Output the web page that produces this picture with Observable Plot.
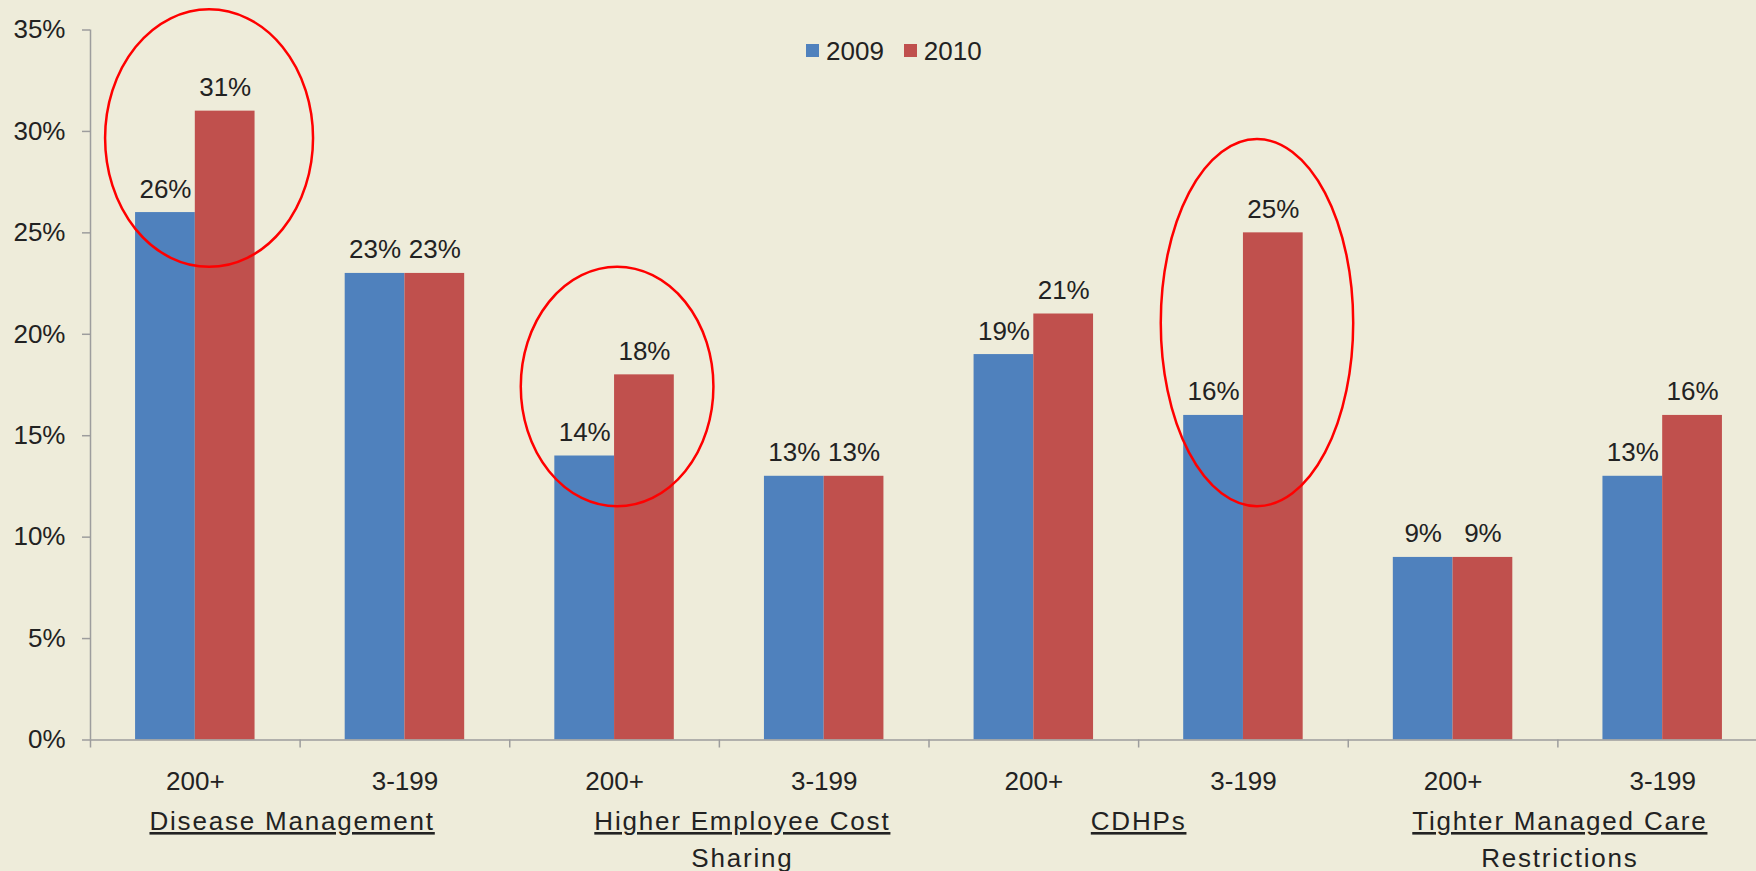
<!DOCTYPE html>
<html>
<head>
<meta charset="utf-8">
<script src="https://cdn.jsdelivr.net/npm/d3@7"></script>
<script src="https://cdn.jsdelivr.net/npm/@observablehq/plot@0.6"></script>
<style>
  html, body { margin: 0; padding: 0; background: #EEECDA; overflow: hidden; }
  #wrap { position: relative; width: 1756px; height: 871px; overflow: hidden; background: #EEECDA; }
  #legend { position: absolute; left: 806px; top: 34px; line-height: 30px; }
  #legend span { margin-right: 20px !important; }
  #legend svg { margin-right: 7px !important; }
  #wrap svg [aria-label^="x-axis"] path,
  #wrap svg [aria-label^="x-axis"] line,
  #wrap svg [aria-label^="y-axis"] path,
  #wrap svg [aria-label^="y-axis"] line { stroke: #9d9d9d; stroke-width: 1.5px; }
  #wrap svg g[aria-description="group-title"] text {
    text-decoration: underline; text-decoration-thickness: 2px; letter-spacing: 1.8px;
  }
  #wrap svg g[aria-description="group-sub"] text { letter-spacing: 1.8px; }
</style>
</head>
<body>
<div id="wrap"></div>
<script>
// ---- data ----
const groups = ["Disease Management", "Higher Employee Cost Sharing", "CDHPs", "Tighter Managed Care Restrictions"];
const groupLine1 = ["Disease Management", "Higher Employee Cost", "CDHPs", "Tighter Managed Care"];
const groupLine2 = ["", "Sharing", "", "Restrictions"];
const sizes = ["200+", "3-199"];
const years = ["2009", "2010"];
const v2009 = [26, 23, 14, 13, 19, 16, 9, 13];
const v2010 = [31, 23, 18, 13, 21, 25, 9, 16];
// highlighted (circled) comparisons: slot span and value span of each ellipse
const highlights = [
  {x1: 0.072, x2: 1.064, lo: 23.3, hi: 36.0},
  {x1: 2.055, x2: 2.974, lo: 11.5, hi: 23.3},
  {x1: 5.108, x2: 6.026, lo: 11.5, hi: 29.6}
];
const yTicks = [0, 5, 10, 15, 20, 25, 30, 35];

// ---- layout / style constants ----
const colors = ["#4F81BD", "#C0504D"];
const BAR_PAD = 0.215, BAR_W = 0.285;
const labelNudge = [-8, 23, 0, 2];
const FONT = "'Liberation Sans', Arial, sans-serif";

// ---- tables built from the arrays ----
const slots = groups.flatMap((g, gi) => sizes.map((s, si) => ({slot: gi * 2 + si, group: g, size: s})));
const rows = slots.flatMap(d => years.map((yr, yi) => ({...d, year: yr, yi, value: (yi === 0 ? v2009 : v2010)[d.slot]})));
const groupRows = groups.map((name, k) => ({name, line1: groupLine1[k], line2: groupLine2[k], mid: 2 * k + 1}));

const ellipses = (index, scales) => {
  const g = d3.create("svg:g").attr("aria-label", "highlight");
  for (const h of highlights) {
    const xa = scales.x(h.x1), xb = scales.x(h.x2), ya = scales.y(h.hi), yb = scales.y(h.lo);
    g.append("ellipse")
      .attr("cx", (xa + xb) / 2).attr("cy", (ya + yb) / 2)
      .attr("rx", (xb - xa) / 2).attr("ry", (yb - ya) / 2)
      .attr("fill", "none").attr("stroke", "#FF0000").attr("stroke-width", 2.5);
  }
  return g.node();
};

const marks = [
  Plot.rect(rows, {
    x1: d => d.slot + BAR_PAD + d.yi * BAR_W,
    x2: d => d.slot + BAR_PAD + (d.yi + 1) * BAR_W,
    y1: 0, y2: "value", fill: "year"
  }),
  Plot.ruleY([0], {stroke: "#9d9d9d", strokeWidth: 1.5}),
  Plot.ruleX([0], {y1: 0, y2: 35, stroke: "#9d9d9d", strokeWidth: 1.5}),
  Plot.text(rows, {
    x: d => d.slot + BAR_PAD + (d.yi + 0.5) * BAR_W,
    y: "value", text: d => d.value + "%",
    lineAnchor: "bottom", dy: -15, fontSize: 26, fill: "#222"
  }),
  Plot.text(slots, {
    x: d => d.slot + 0.5, frameAnchor: "bottom", text: "size",
    lineAnchor: "bottom", dy: 50, fontSize: 26, fill: "#222"
  }),
  ...groupRows.map((r, k) => Plot.text([r], {
    x: "mid", frameAnchor: "bottom", text: "line1", lineAnchor: "bottom",
    dy: 90, dx: labelNudge[k], fontSize: 26, fill: "#222", ariaDescription: "group-title"
  })),
  ...groupRows.map((r, k) => Plot.text([r], {
    x: "mid", frameAnchor: "bottom", text: "line2", lineAnchor: "bottom",
    dy: 127, dx: labelNudge[k], fontSize: 26, fill: "#222", ariaDescription: "group-sub"
  })),
  ellipses
];

const chart = Plot.plot({
  width: 1767, height: 871,
  marginLeft: 90, marginRight: 0, marginTop: 29.5, marginBottom: 131.5,
  style: {background: "transparent", fontFamily: FONT, fontSize: "26px", color: "#222", maxWidth: "none", overflow: "visible"},
  x: {domain: [0, 8], ticks: d3.range(0, 9), tickFormat: () => "", tickSize: 8, label: null},
  y: {domain: [0, 35], ticks: yTicks, tickFormat: d => d + "%", tickSize: 8, tickPadding: 17, label: null},
  color: {domain: years, range: colors},
  marks
});

const legend = Plot.legend({
  color: {domain: years, range: colors},
  legend: "swatches", swatchSize: 13,
  style: {fontFamily: FONT, fontSize: "26px", color: "#222", background: "transparent"}
});

const wrap = document.getElementById("wrap");
wrap.appendChild(chart);
const lg = document.createElement("div");
lg.id = "legend";
lg.appendChild(legend);
wrap.appendChild(lg);
</script>
</body>
</html>
